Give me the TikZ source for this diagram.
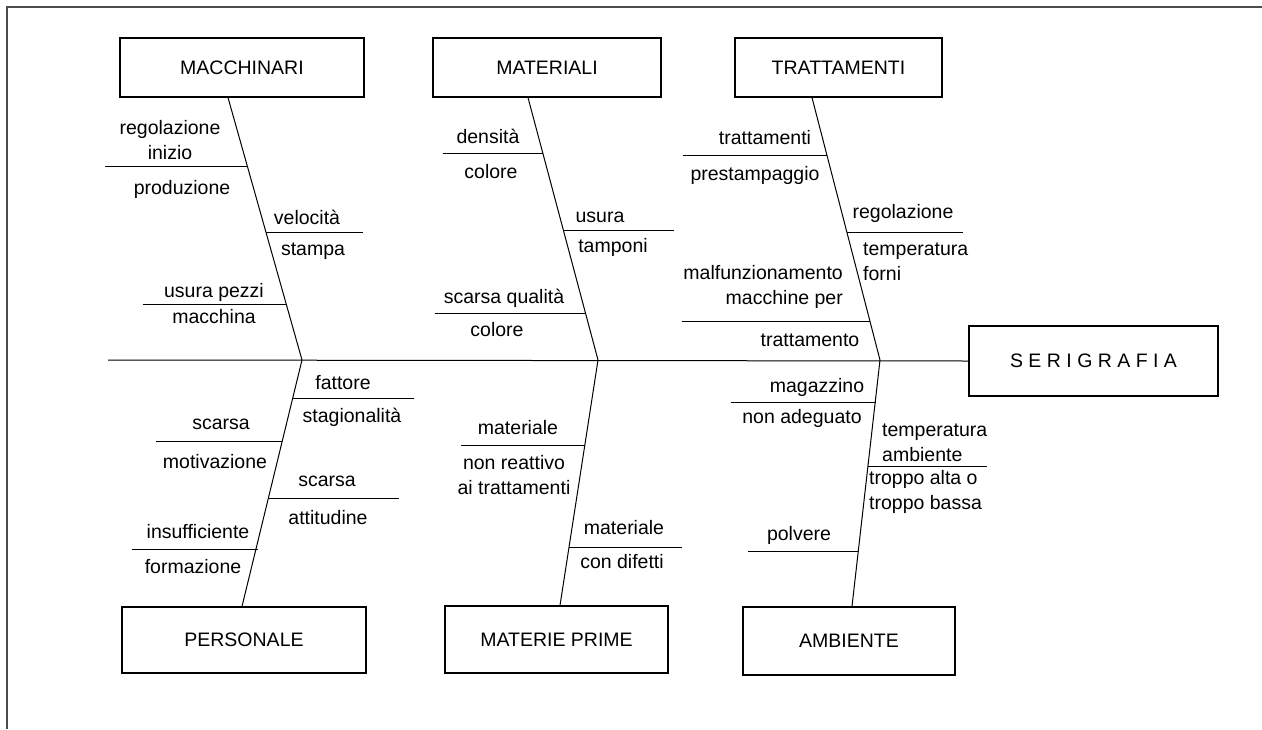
\documentclass[tikz,border=0pt]{standalone}
\usepackage{fontspec}
\setmainfont{Liberation Sans}
\usetikzlibrary{positioning,calc}

\begin{document}
\begin{tikzpicture}
  [
    x=1pt, y=-1pt,
    box/.style  = {draw, line width=1.2pt, inner sep=0pt, font=\fontsize{19.5}{23}\selectfont},
    lbl/.style  = {inner sep=0pt, align=center, font=\fontsize{19.5}{25}\selectfont},
    bone/.style = {line width=1pt},
  ]

  % the page and its frame
  \useasboundingbox (0,0) rectangle (1262,729);
  \draw[line width=2pt, black!70] (7,729) -- (7,7) -- (1262,7);

  % the effect, at the head of the spine
  \node (effect) at (1093.5,361) [box, minimum width=249, minimum height=70] {S E R I G R A F I A};

  % cause boxes: three above, three below
  \node (macch) at (242,67.5)  [box, minimum width=244, minimum height=59] {MACCHINARI};
  \node (mater) at (547,67.5)  [box, minimum width=228, minimum height=59] {MATERIALI};
  \node (tratt) at (838.5,67.5)[box, minimum width=207, minimum height=59] {TRATTAMENTI};
  \node (perso) at (244,640)   [box, minimum width=244, minimum height=66] {PERSONALE};
  \node (prime) at (556.5,639.5)[box, minimum width=223, minimum height=67] {MATERIE PRIME};
  \node (ambie) at (849,641)   [box, minimum width=212, minimum height=68] {AMBIENTE};

  % the spine, and where the bones meet it
  \coordinate (tail) at (108,360);
  \coordinate (jm) at (302,360);
  \coordinate (jt) at (598,360);
  \coordinate (jr) at (880,360);
  \draw[bone] (tail) -- (effect.west);

  % the bones: from each box to the spine
  \draw[bone] ($(macch.south)+(-14,0)$)   -- (jm);
  \draw[bone] ($(mater.south)+(-19,0)$)   -- (jt);
  \draw[bone] ($(tratt.south)+(-26.5,0)$) -- (jr);
  \draw[bone] ($(perso.north)+(-2,0)$)    -- (jm);
  \draw[bone] ($(prime.north)+(3.5,0)$)   -- (jt);
  \draw[bone] ($(ambie.north)+(3,0)$)     -- (jr);

  % the ribs: name/left x/right x/height
  \foreach \n/\xa/\xb/\y in {m1/105/247/166, m2/266/363/232, m3/143/287/304,
                             t1/443/543/153, t2/563/674/230, t3/435/585/313,
                             r1/683/827/155, r2/847/963/232, r3/682/870/321,
                             p1/293/414/398, p2/156/282/441, p3/269/399/498, p4/132/258/549,
                             q1/461/585/445, q2/569/682/547,
                             a1/731/876/402, a2/868/987/466, a3/748/858/551}
    {
      \coordinate (\n-l) at (\xa,\y);
      \coordinate (\n-r) at (\xb,\y);
      \draw[bone] (\n-l) -- (\n-r);
    }

  % MACCHINARI
  \node (regol)    at (170,140) [lbl] {regolazione\\inizio};
  \node (produz)   at (182,189) [lbl] {produzione};
  \node (veloc)    at (307,217) [lbl] {velocità};
  \node (stampa)   at (313,251) [lbl] {stampa};
  \node (usurap)   at (214,292) [lbl] {usura pezzi};
  \node (macchina) at (214,317) [lbl] {macchina};

  % MATERIALI
  \node (densita)  at (488,136) [lbl] {densità};
  \node (colorea)  at (491,172) [lbl] {colore};
  \node (usurat)   at (600,217) [lbl] {usura};
  \node (tamponi)  at (613,247) [lbl] {tamponi};
  \node (qualita)  at (504,298) [lbl] {scarsa qualità};
  \node (coloreb)  at (497,330) [lbl] {colore};

  % TRATTAMENTI
  \node (trattam)  at (765,138) [lbl] {trattamenti};
  \node (prestamp) at (755,175) [lbl] {prestampaggio};
  \node (regolt)   at (903,213) [lbl] {regolazione};
  \node (forni)    at (863,262) [lbl, anchor=west, align=left] {temperatura\\forni};
  \node (malfunz)  at (843,287) [lbl, anchor=east, align=right] {malfunzionamento\\macchine per};
  \node (trattto)  at (810,340) [lbl] {trattamento};

  % PERSONALE
  \node (fattore)  at (343,383) [lbl] {fattore};
  \node (stagion)  at (352,417) [lbl] {stagionalità};
  \node (scarsam)  at (221,424) [lbl] {scarsa};
  \node (motiv)    at (215,462) [lbl] {motivazione};
  \node (scarsaa)  at (327,481) [lbl] {scarsa};
  \node (attit)    at (328,518) [lbl] {attitudine};
  \node (insuff)   at (198,532) [lbl] {insufficiente};
  \node (formaz)   at (193,567) [lbl] {formazione};

  % MATERIE PRIME
  \node (matera)   at (518,428) [lbl] {materiale};
  \node (reatt)    at (514,475) [lbl] {non reattivo\\ai trattamenti};
  \node (materb)   at (624,528) [lbl] {materiale};
  \node (difetti)  at (622,562) [lbl] {con difetti};

  % AMBIENTE
  \node (magazz)   at (817,387) [lbl] {magazzino};
  \node (adeg)     at (802,418) [lbl] {non adeguato};
  \node (tempamb)  at (882,443) [lbl, anchor=west, align=left] {temperatura\\ambiente};
  \node (troppo)   at (869,492) [lbl, anchor=west, align=left] {troppo alta o\\troppo bassa};
  \node (polvere)  at (799,535) [lbl] {polvere};
\end{tikzpicture}
\end{document}
